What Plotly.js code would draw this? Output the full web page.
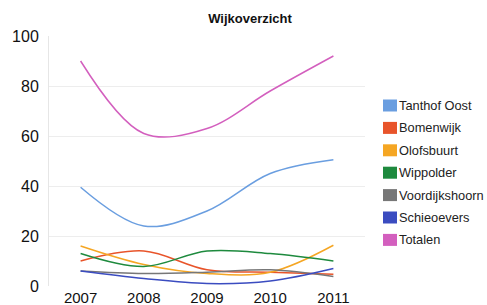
<!DOCTYPE html>
<html><head><meta charset="utf-8">
<script src="https://cdn.plot.ly/plotly-3.0.1.min.js"></script>
<style>html,body{margin:0;padding:0;background:#fff}#c{width:487px;height:305px}</style>
</head><body><div id="c"></div>
<script>
const years = [2007, 2008, 2009, 2010, 2011];
const names = ["Tanthof Oost", "Bomenwijk", "Olofsbuurt", "Wippolder", "Voordijkshoorn", "Schieoevers", "Totalen"];
const tanthofOost = [39.5, 24, 30, 45, 50.5];
const bomenwijk = [10, 14, 6.5, 5.5, 4.7];
const olofsbuurt = [16, 8.6, 5, 5.5, 16.3];
const wippolder = [13, 7.8, 14, 13, 10];
const voordijkshoorn = [6, 5, 5.5, 6.5, 3.8];
const schieoevers = [6, 3, 1, 2, 7];
const totalen = [90, 61, 63, 78, 92];
const yTicks = [0, 20, 40, 60, 80, 100];
const colors = ["#6a9ee0", "#e8542a", "#f5a623", "#1e8a3e", "#777777", "#3b4cc0", "#d35fbe"];
const series = [tanthofOost, bomenwijk, olofsbuurt, wippolder, voordijkshoorn, schieoevers, totalen];

const W = 487, H = 305, ML = 49, MR = 122, MT = 36, MB = 19;
const PW = W - ML - MR, PH = H - MT - MB;
const px = x => (x - ML) / PW;
const py = y => (H - MB - y) / PH;

const traces = series.map((s, i) => ({x: years, y: s, mode: 'lines', line: {shape: 'spline', smoothing: 1, color: colors[i], width: 1.5}, name: names[i], showlegend: false}));

// custom legend (squares + labels) to the right of the plot
const shapes = [], annotations = [];
names.forEach((n, i) => {
  const cy = 105.5 + i * 22.4;
  shapes.push({type: 'rect', xref: 'paper', yref: 'paper', x0: px(383), x1: px(397), y0: py(cy + 6), y1: py(cy - 6), fillcolor: colors[i], line: {width: 0}});
  annotations.push({xref: 'paper', yref: 'paper', x: px(397), y: py(cy), xanchor: 'left', yanchor: 'middle', text: n, showarrow: false, font: {size: 12.8, color: '#222'}});
});

const layout = {
  width: W, height: H,
  margin: {l: ML, r: MR, t: MT, b: MB},
  paper_bgcolor: '#fff', plot_bgcolor: '#fff',
  font: {family: 'Liberation Sans, Arial, sans-serif', color: '#111'},
  title: {text: '<b>Wijkoverzicht</b>', x: 250/487, xanchor: 'center', y: 0.94, yanchor: 'middle', font: {size: 13, color: '#111'}},
  xaxis: {range: [2006.5, 2011.5], tickvals: years, ticktext: years.map(String), showgrid: false, zeroline: false, showline: false, ticks: '', tickfont: {size: 15, color: '#111'}, ticklabelstandoff: 1, fixedrange: true},
  yaxis: {range: [0, 100], tickvals: yTicks, showgrid: true, gridcolor: '#ededed', zeroline: false, showline: true, linecolor: '#e6e6e6', ticks: '', tickfont: {size: 16, color: '#111'}, ticklabelstandoff: 6},
  shapes: shapes, annotations: annotations,
  showlegend: false
};
Plotly.newPlot('c', traces, layout, {staticPlot: true, displayModeBar: false});
</script></body></html>
